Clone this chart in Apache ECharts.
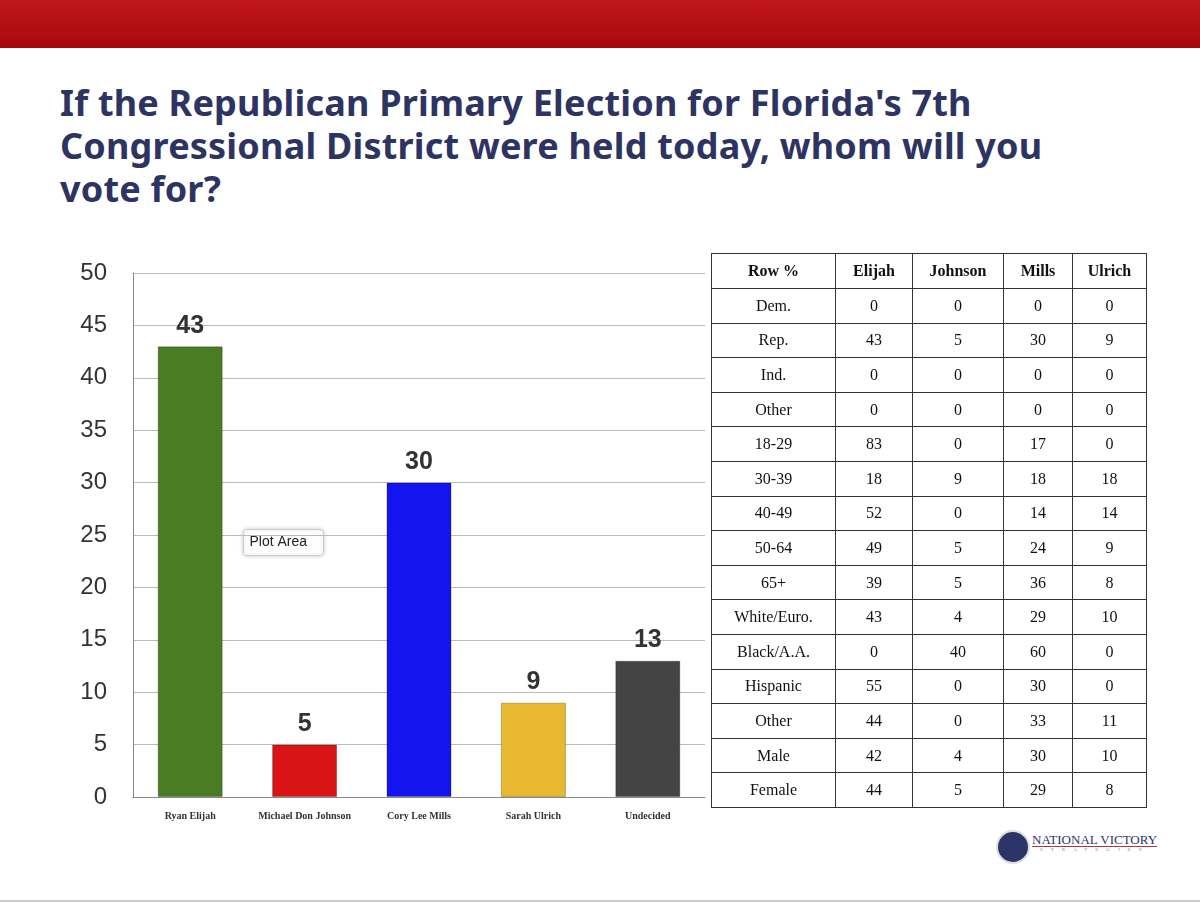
<!DOCTYPE html>
<html><head><meta charset="utf-8">
<script src="https://cdn.jsdelivr.net/npm/echarts@6/dist/echarts.min.js"></script>
<style>
body{margin:0;width:1200px;height:905px;background:#fff;position:relative;overflow:hidden;font-family:'Noto Sans',sans-serif}
#top{position:absolute;left:0;top:0;width:1200px;height:48px;background:linear-gradient(#c0161b,#a8090d)}
#title{position:absolute;left:60px;top:81px;width:1010px;font:bold 36px 'Noto Sans',sans-serif;color:#2e3462;line-height:43px;letter-spacing:0.2px}
#chart{position:absolute;left:0;top:240px;width:720px;height:600px}
table{position:absolute;left:711px;top:253px;border-collapse:collapse;table-layout:fixed;width:435px;font:16px 'Liberation Serif',serif;color:#111}
td,th{border:1.5px solid #333;height:33px;padding:0;text-align:center;box-sizing:border-box}
th{font-weight:bold}
#logo{position:absolute;left:996px;top:830px;width:30px;height:30px;border-radius:50%;background:#2c3568;border:2px solid #ddd}
#lt{position:absolute;left:1032px;top:834px;font:13px 'Liberation Serif',serif;color:#2c3568;border-bottom:1px solid #b33;line-height:12px}
#lt2{position:absolute;left:1040px;top:847px;font:5px 'Liberation Serif',serif;color:#888;letter-spacing:8px}
#bot{position:absolute;left:0;top:900px;width:1200px;height:2px;background:#ccc}
</style></head><body>
<div id="top"></div>
<div id="title">If the Republican Primary Election for Florida's 7th Congressional District were held today, whom will you vote for?</div>
<div id="chart"></div>
<table id="tbl"></table>
<div id="logo"></div><div id="lt">NATIONAL VICTORY</div><div id="lt2">STRATEGIES</div>
<div id="bot"></div>
<script>
const categories=['Ryan Elijah','Michael Don Johnson','Cory Lee Mills','Sarah Ulrich','Undecided'];
const values=[43,5,30,9,13];
const barColors=['#4a7d23','#d81414','#1414ee','#e8b92e','#444444'];
const tableHeader=['Row %','Elijah','Johnson','Mills','Ulrich'];
const rowLabels=['Dem.','Rep.','Ind.','Other','18-29','30-39','40-49','50-64','65+','White/Euro.','Black/A.A.','Hispanic','Other','Male','Female'];
const elijah=[0,43,0,0,83,18,52,49,39,43,0,55,44,42,44];
const johnson=[0,5,0,0,0,9,0,5,5,4,40,0,0,4,5];
const mills=[0,30,0,0,17,18,14,24,36,29,60,30,33,30,29];
const ulrich=[0,9,0,0,0,18,14,9,8,10,0,0,11,10,8];
const widths=[124,77,91,69,74];
let h='<tr>'+tableHeader.map((t,i)=>`<th style="width:${widths[i]}px;height:35px">${t}</th>`).join('')+'</tr>';
rowLabels.forEach((r,i)=>{h+=`<tr><td style="height:34.6px">${r}</td><td>${elijah[i]}</td><td>${johnson[i]}</td><td>${mills[i]}</td><td>${ulrich[i]}</td></tr>`;});
document.getElementById('tbl').innerHTML=h;
const c=echarts.init(document.getElementById('chart'));
c.setOption({animation:false,
grid:{left:133,top:33,width:572,height:524},
xAxis:{type:'category',data:categories,axisTick:{show:false},axisLine:{lineStyle:{color:'#888'}},
 axisLabel:{interval:0,fontFamily:'Liberation Serif',fontWeight:'bold',fontSize:10,color:'#333',margin:14}},
yAxis:{type:'value',min:0,max:50,interval:5,axisLine:{show:true,lineStyle:{color:'#888'}},
 splitLine:{lineStyle:{color:'#bbb'}},axisLabel:{fontSize:24,color:'#333',fontFamily:'Liberation Sans',margin:26}},
series:[{type:'bar',barWidth:65,data:values.map((v,i)=>({value:v,itemStyle:{color:barColors[i],borderColor:'rgba(0,0,0,0.25)',borderWidth:1}})),
 label:{show:true,position:'top',fontSize:25,fontWeight:'bold',color:'#333',fontFamily:'Liberation Sans',distance:8}}],
graphic:[{type:'group',left:243,top:289,children:[
 {type:'rect',shape:{width:80,height:26,r:3},style:{fill:'#fff',stroke:'#ccc',shadowBlur:4,shadowColor:'rgba(0,0,0,0.2)'}},
 {type:'text',x:6,y:6,style:{text:'Plot Area',fontSize:14,fill:'#222',fontFamily:'Liberation Sans'}}]}]
});
</script></body></html>
